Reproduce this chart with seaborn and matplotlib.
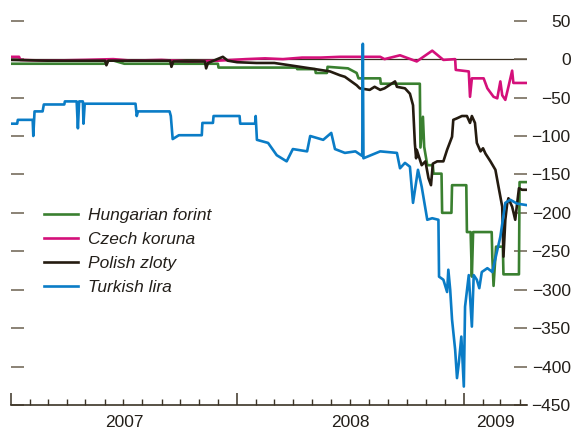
import numpy as np
import pandas as pd
import matplotlib
matplotlib.use("Agg")
import matplotlib.pyplot as plt
import matplotlib.dates as mdates
import seaborn as sns
from matplotlib import font_manager

# ---------------- data (basis points) ----------------
huf_dates = ["2007-01-01", "2007-06-01", "2007-06-05", "2007-06-16", "2007-07-03", "2007-12-01",
             "2007-12-02", "2008-04-06", "2008-04-07", "2008-05-06", "2008-05-07", "2008-05-25",
             "2008-05-26", "2008-06-28", "2008-07-12", "2008-07-15", "2008-08-19", "2008-08-20",
             "2008-10-22", "2008-10-23", "2008-10-27", "2008-10-29", "2008-11-03", "2008-11-12",
             "2008-11-13", "2008-11-26", "2008-11-27", "2008-12-12", "2008-12-13", "2009-01-05",
             "2009-01-06", "2009-01-12", "2009-01-14", "2009-01-16", "2009-02-15", "2009-02-16",
             "2009-02-18", "2009-02-22", "2009-03-05", "2009-03-06", "2009-03-31", "2009-04-01",
             "2009-04-13"]
huf_vals = [-6, -6, -2, -2, -6, -6,
            -11, -11, -13, -13, -18, -18,
            -10, -12, -18, -25, -25, -32,
            -32, -115, -75, -114, -138, -138,
            -149, -149, -200, -200, -164, -164,
            -225, -225, -283, -225, -225, -257,
            -295, -244, -244, -280, -280, -160,
            -160]

czk_dates = ["2007-01-01", "2007-01-14", "2007-01-16", "2007-03-01", "2007-05-01", "2007-06-15",
             "2007-07-15", "2007-09-01", "2007-10-15", "2007-12-01", "2008-01-15", "2008-02-15",
             "2008-03-15", "2008-04-15", "2008-05-15", "2008-06-15", "2008-07-15", "2008-08-19",
             "2008-08-26", "2008-09-20", "2008-10-17", "2008-11-11", "2008-11-29", "2008-12-18",
             "2008-12-19", "2009-01-09", "2009-01-11", "2009-01-14", "2009-02-02", "2009-02-08",
             "2009-02-18", "2009-02-24", "2009-03-01", "2009-03-04", "2009-03-09", "2009-03-14",
             "2009-03-20", "2009-03-22", "2009-04-13"]
czk_vals = [3, 3, -1, -2, -1, 0,
            -2, -1, -3, -2, 0, 1,
            0, 2, 2, 3, 3, 3,
            0, 5, -3, 11, -1, 0,
            -14, -16, -49, -25, -25, -38,
            -49, -51, -29, -47, -53, -36,
            -15, -31, -31]

pln_dates = ["2007-01-01", "2007-03-01", "2007-06-02", "2007-06-04", "2007-06-07", "2007-09-15",
             "2007-09-17", "2007-09-20", "2007-11-10", "2007-11-12", "2007-11-15", "2007-12-09",
             "2007-12-17", "2008-01-01", "2008-02-01", "2008-03-01", "2008-03-26", "2008-04-28",
             "2008-05-30", "2008-06-15", "2008-06-23", "2008-07-12", "2008-07-17", "2008-08-02",
             "2008-08-10", "2008-08-19", "2008-08-26", "2008-09-12", "2008-09-15", "2008-09-28",
             "2008-10-06", "2008-10-11", "2008-10-14", "2008-10-16", "2008-10-17", "2008-10-25",
             "2008-10-31", "2008-11-05", "2008-11-09", "2008-11-12", "2008-11-19", "2008-11-29",
             "2008-12-05", "2008-12-13", "2008-12-15", "2008-12-21", "2008-12-29", "2009-01-06",
             "2009-01-11", "2009-01-14", "2009-01-19", "2009-01-22", "2009-01-28", "2009-02-01",
             "2009-02-05", "2009-02-13", "2009-02-21", "2009-02-26", "2009-03-01", "2009-03-04",
             "2009-03-06", "2009-03-09", "2009-03-12", "2009-03-14", "2009-03-20", "2009-03-25",
             "2009-03-31", "2009-04-05", "2009-04-13"]
pln_vals = [-1, -2, -2, -8, -2, -2,
            -10, -3, -3, -12, -5, 3,
            -2, -4, -5, -5, -8, -12,
            -16, -21, -23, -34, -38, -40,
            -36, -40, -38, -29, -36, -38,
            -45, -60, -110, -129, -118, -138,
            -133, -155, -164, -136, -133, -133,
            -118, -101, -79, -77, -74, -74,
            -83, -74, -83, -109, -120, -116,
            -123, -133, -144, -166, -179, -192,
            -257, -209, -188, -181, -192, -209,
            -168, -170, -170]

try_dates = ["2007-01-01", "2007-01-11", "2007-01-12", "2007-02-05", "2007-02-06", "2007-02-08",
             "2007-02-21", "2007-02-23", "2007-03-28", "2007-03-29", "2007-04-17", "2007-04-19",
             "2007-04-21", "2007-04-27", "2007-04-28", "2007-04-30", "2007-07-21", "2007-07-23",
             "2007-07-25", "2007-09-14", "2007-09-16", "2007-09-19", "2007-09-29", "2007-11-05",
             "2007-11-06", "2007-11-23", "2007-11-24", "2008-01-05", "2008-01-06", "2008-01-30",
             "2008-01-31", "2008-02-02", "2008-02-20", "2008-03-05", "2008-03-21", "2008-03-31",
             "2008-04-23", "2008-04-28", "2008-05-19", "2008-06-01", "2008-06-07", "2008-06-23",
             "2008-07-10", "2008-07-21", "2008-07-22", "2008-07-23", "2008-08-19", "2008-09-15",
             "2008-09-20", "2008-09-28", "2008-10-06", "2008-10-11", "2008-10-19", "2008-10-25",
             "2008-11-03", "2008-11-11", "2008-11-21", "2008-11-22", "2008-11-29", "2008-12-05",
             "2008-12-07", "2008-12-10", "2008-12-13", "2008-12-18", "2008-12-21", "2008-12-24",
             "2008-12-28", "2009-01-01", "2009-01-03", "2009-01-09", "2009-01-14", "2009-01-17",
             "2009-01-22", "2009-01-26", "2009-01-30", "2009-02-08", "2009-02-13", "2009-02-16",
             "2009-03-01", "2009-03-09", "2009-03-17", "2009-03-28", "2009-04-13"]
try_vals = [-84, -84, -79, -79, -100, -68,
            -68, -59, -59, -55, -55, -90,
            -55, -55, -84, -58, -58, -74,
            -68, -68, -74, -104, -99, -99,
            -83, -83, -74, -74, -84, -84,
            -74, -105, -109, -125, -133, -117,
            -120, -100, -105, -96, -117, -122,
            -120, -126, 20, -129, -120, -122,
            -142, -135, -140, -187, -144, -166,
            -209, -207, -209, -283, -287, -303,
            -274, -300, -339, -378, -415, -395,
            -361, -426, -322, -281, -348, -281,
            -287, -298, -277, -272, -275, -277,
            -231, -187, -183, -188, -190]

names = ["Hungarian forint", "Czech koruna", "Polish zloty", "Turkish lira"]
colors = ["#3a8030", "#d4107a", "#241b10", "#0a7cc6"]
y_ticks = list(range(-450, 51, 50))
year_labels = ["2007", "2008", "2009"]

# ---------------- build long table ----------------
frames = []
for n, d, v in zip(names, [huf_dates, czk_dates, pln_dates, try_dates],
                   [huf_vals, czk_vals, pln_vals, try_vals]):
    frames.append(pd.DataFrame({"date": pd.to_datetime(d), "value": v, "currency": n}))
df = pd.concat(frames, ignore_index=True)

# ---------------- fonts ----------------
avail = {f.name for f in font_manager.fontManager.ttflist}
fam = "Liberation Sans Narrow" if "Liberation Sans Narrow" in avail else "Liberation Sans"
plt.rcParams["font.family"] = [fam, "DejaVu Sans"]
fs = 12.5

fig = plt.figure(figsize=(5.73, 4.32), dpi=100)
ax = fig.add_axes([11 / 573, 27 / 432, 516 / 573, 384.3 / 432])

sns.lineplot(data=df, x="date", y="value", hue="currency", hue_order=names,
             palette=dict(zip(names, colors)), estimator=None, sort=False,
             linewidth=1.9, legend=False, ax=ax)
lines = ax.get_lines()[:4]
ax.axhline(0, color="#3a3020", lw=0.9, zorder=1)

xstart, xend = pd.Timestamp("2007-01-01"), pd.Timestamp("2009-04-13")
ax.set_xlim(xstart, xend)
ax.set_ylim(-450, 50)
ax.set_xlabel("")
ax.set_ylabel("")

for s in ["top", "left", "right"]:
    ax.spines[s].set_visible(False)
ax.spines["bottom"].set_color("#3b3326")
ax.spines["bottom"].set_linewidth(1.2)

# x ticks: years major, months minor
ax.xaxis.set_major_locator(mdates.YearLocator())
ax.xaxis.set_minor_locator(mdates.MonthLocator())
ax.xaxis.set_major_formatter(plt.NullFormatter())
ax.tick_params(axis="x", which="major", direction="in", length=8.5, width=1.1,
               color="#3b3326", labelbottom=False)
ax.tick_params(axis="x", which="minor", direction="in", length=4.5, width=1.0,
               color="#3b3326")

# year labels centred in the visible part of each year
spans = [(xstart, pd.Timestamp("2008-01-01")),
         (pd.Timestamp("2008-01-01"), pd.Timestamp("2009-01-01")),
         (pd.Timestamp("2009-01-01"), xend)]
for lab, (a, b) in zip(year_labels, spans):
    mid = a + (b - a) / 2
    ax.annotate(lab, xy=(mdates.date2num(mid), 0), xycoords=("data", "axes fraction"),
                xytext=(0, -7), textcoords="offset points", ha="center", va="top",
                fontsize=fs, color="#231f1a")

# y ticks on both sides, labels right
ax.set_yticks(y_ticks)
ax.tick_params(axis="y", which="major", left=True, right=True, labelleft=False,
               labelright=True, direction="in", length=9.5, width=1.1,
               color="#6b6050", labelsize=fs, labelcolor="#231f1a", pad=31.5)
for t in ax.yaxis.get_major_ticks():
    t.label2.set_horizontalalignment("right")

leg = ax.legend(lines, names, loc="upper left", bbox_to_anchor=(0.064, 0.512),
                frameon=False, borderpad=0, borderaxespad=0, handlelength=1.95,
                handletextpad=0.57, labelspacing=0.5,
                prop={"family": [fam, "DejaVu Sans"], "style": "italic", "size": fs})
for t in leg.get_texts():
    t.set_color("#231f1a")

fig.savefig("out.png", dpi=100, facecolor="white")
